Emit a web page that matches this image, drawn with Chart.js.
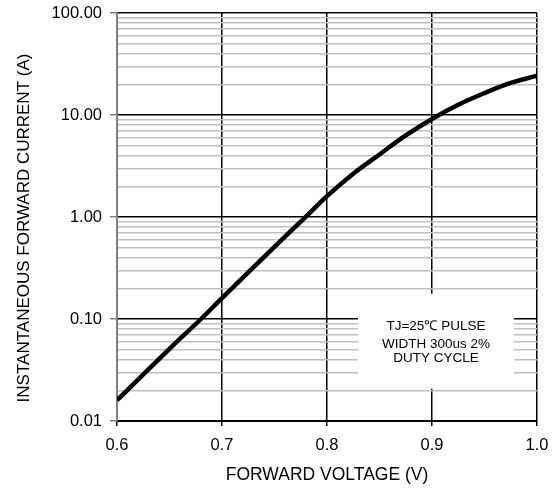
<!DOCTYPE html>
<html>
<head>
<meta charset="utf-8">
<title>Forward Voltage vs Current</title>
<script src="https://cdn.jsdelivr.net/npm/chart.js@4.4.1/dist/chart.umd.min.js"></script>
<style>
    html, body { margin: 0; padding: 0; background: #fff; }
    #wrap { width: 559px; height: 489px; }
</style>
</head>
<body>
<div id="wrap"><canvas id="vfChart" width="559" height="489"></canvas></div>
<script>
// Curve
const voltage = [0.60, 0.65, 0.68, 0.70, 0.75, 0.78, 0.80, 0.825, 0.85, 0.875, 0.90, 0.925, 0.95, 0.975, 1.00];
const current = [0.016, 0.051, 0.10, 0.16, 0.51, 1.01, 1.6, 2.65, 4.1, 6.3, 9.15, 12.6, 16.4, 20.6, 24.3];

// Axis ticks
const xTicks = [0.6, 0.7, 0.8, 0.9, 1.0];
const yDecades = [0.01, 0.1, 1, 10, 100];
const yMinorSteps = [2, 3, 4, 5, 6, 7, 8, 9];

const noteLines = ['TJ=25\u2103 PULSE', 'WIDTH 300us 2%', 'DUTY CYCLE'];
const yTitle = 'INSTANTANEOUS FORWARD CURRENT (A)';
const xTitle = 'FORWARD VOLTAGE (V)';

const FONT = '"Liberation Sans", Arial, sans-serif';
Chart.defaults.font.family = FONT;
Chart.defaults.color = '#000';

const isDecade = v => yDecades.some(d => Math.abs(Math.log10(v) - Math.log10(d)) < 1e-6);

// White note box + y title
const notePlugin = {
    id: 'noteBox',
    beforeDatasetsDraw(chart) {
        const { ctx, scales: { x, y } } = chart;
        const left = x.getPixelForValue(0.8295);
        const right = x.getPixelForValue(0.978);
        const top = y.getPixelForValue(0.177);
        const bottom = y.getPixelForValue(0.0207);
        ctx.save();
        ctx.fillStyle = '#fff';
        ctx.fillRect(left, top, right - left, bottom - top);
        ctx.fillStyle = '#000';
        ctx.font = '13.5px ' + FONT;
        ctx.textAlign = 'center';
        ctx.textBaseline = 'middle';
        const cx = (left + right) / 2;
        const cy = (top + bottom) / 2;
        const offsets = [-15, 3, 17];
        noteLines.forEach((t, i) => ctx.fillText(t, cx, cy + offsets[i]));
        ctx.restore();
    },
    afterDraw(chart) {
        const { ctx } = chart;
        ctx.save();
        ctx.translate(24, 228);
        ctx.rotate(-Math.PI / 2);
        ctx.font = '17px ' + FONT;
        ctx.fillStyle = '#000';
        ctx.textAlign = 'center';
        ctx.textBaseline = 'middle';
        ctx.fillText(yTitle, 0, 0);
        ctx.restore();
    }
};

const ctx = document.getElementById('vfChart').getContext('2d');
const vfChart = new Chart(ctx, {
    type: 'line',
    data: {
        datasets: [{
            data: voltage.map((v, i) => ({ x: v, y: current[i] })),
            borderColor: '#000',
            borderWidth: 4.5,
            pointRadius: 0,
            fill: false,
            tension: 0.4
        }]
    },
    options: {
        responsive: false,
        animation: false,
        layout: { padding: { top: 13, right: 22, left: 0, bottom: 0 } },
        plugins: {
            legend: { display: false },
            tooltip: { enabled: false }
        },
        scales: {
            x: {
                type: 'linear',
                min: 0.6,
                max: 1.0,
                afterBuildTicks: scale => {
                    scale.ticks = xTicks.map(v => ({ value: v }));
                },
                afterFit: scale => {
                    scale.height = 68;
                    scale.paddingLeft = 0;
                    scale.paddingRight = 0;
                },
                ticks: {
                    font: { size: 16.5 },
                    padding: 10,
                    callback: v => v.toFixed(1)
                },
                grid: {
                    color: c => (c.tick && c.tick.value === 0.6) ? 'rgba(0,0,0,0)' : '#000',
                    lineWidth: 1.5,
                    tickColor: '#000',
                    tickLength: 5
                },
                border: { color: '#000', width: 2 },
                title: {
                    display: true,
                    text: xTitle,
                    font: { size: 17.5 },
                    padding: { top: 0, bottom: 3 }
                }
            },
            y: {
                type: 'logarithmic',
                min: 0.01,
                max: 100,
                afterBuildTicks: scale => {
                    const t = [];
                    yDecades.forEach((d, i) => {
                        t.push({ value: d, major: true });
                        if (i < yDecades.length - 1) {
                            yMinorSteps.forEach(m => t.push({ value: d * m }));
                        }
                    });
                    scale.ticks = t;
                },
                afterFit: scale => {
                    scale.width = 117;
                    scale.paddingTop = 0;
                    scale.paddingBottom = 0;
                },
                ticks: {
                    autoSkip: false,
                    font: { size: 16.5 },
                    padding: 8,
                    callback: v => isDecade(v) ? v.toFixed(2) : ''
                },
                grid: {
                    color: c => (c.tick && isDecade(c.tick.value)) ? '#000' : '#c0c0c0',
                    lineWidth: 1.5,
                    tickColor: c => (c.tick && isDecade(c.tick.value)) ? '#808080' : 'rgba(0,0,0,0)',
                    tickLength: 7
                },
                border: { color: '#808080', width: 2 }
            }
        }
    },
    plugins: [notePlugin]
});
</script>
</body>
</html>
